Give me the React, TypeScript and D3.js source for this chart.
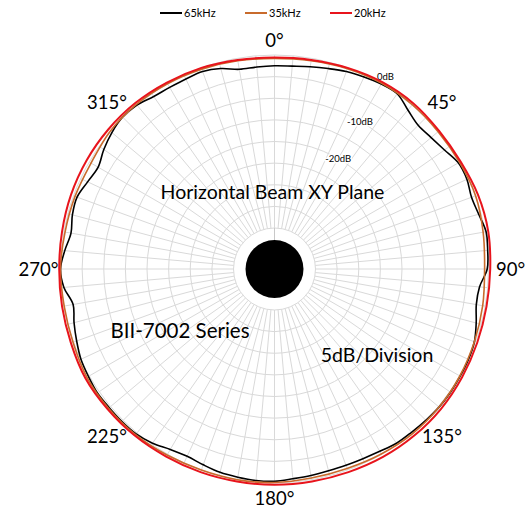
import * as d3 from "d3";
import { useEffect, useRef } from "react";

// series
const seriesNames = ["65kHz", "35kHz", "20kHz"];
const seriesColors = ["#000000", "#c86b2c", "#e8141c"];

// angles (degrees, clockwise from top)
const angles5 = d3.range(0, 360, 5);
const angles10 = d3.range(0, 360, 10);

// response in dB relative to on-axis
const values65 = [
    -2.5, -2.4, -2.0, -1.5, -0.9, -0.5, -0.1, 0.0, -1.5, -2.5, -2.2, -1.5,
    -0.4, -0.4, -1.0, -0.6, 0.2, 0.0, -0.3, -1.9, -2.1, -1.2, -0.3, 0.0,
    0.1, 0.2, 0.2, 0.0, -0.2, -0.3, -0.8, -1.1, -1.2, -1.2, -1.0, -0.8,
    -0.4, -0.4, -0.6, -0.8, -1.3, -1.7, -1.3, -0.3, 0.3, 0.4, 0.4, 0.5,
    0.2, -0.1, -0.8, -1.5, -2.2, -0.6, 0.0, -0.8, -1.7, -1.1, -0.9, -1.8,
    -2.4, -1.3, -0.4, 0.2, 0.0, -0.8, -1.0, -1.0, -0.9, -1.5, -2.6, -2.6,
];
const values35 = [
    -0.8, -0.6, -0.2, 0.1, 0.1, -0.1, -0.1, 0.0, -0.5, -0.9, -0.6, -0.3,
    0.0, 0.2, 0.2, -0.1, -0.4, -0.4, -0.1, 0.0, 0.0, 0.2, 0.5, 0.6,
    0.6, 0.1, -0.1, 0.0, -0.3, -0.4, -0.5, 0.1, 0.2, 0.0, -0.3, -0.6,
];
const values20 = [
    -0.6, -0.4, 0.0, 0.4, 0.5, 0.2, 0.2, 0.6, 0.7, 0.4, 0.3, 0.4,
    0.6, 0.8, 0.8, 0.7, 0.5, 0.4, 0.4, 0.4, 0.5, 0.6, 0.8, 0.9,
    1.0, 0.6, 0.4, 0.3, 0.4, 0.6, 0.7, 0.7, 0.6, 0.3, 0.0, -0.4,
];

// grid
const ringLevels = [-40, -35, -30, -25, -20, -15, -10, -5, 0];
const dbLabels = [0, -10, -20];
const degreeLabels = [0, 45, 90, 135, 180, 225, 270, 315];
const spokeAngles = d3.range(0, 360, 5);

function polarChart(svgEl: SVGSVGElement) {
    const cx = 274.5;
    const cy = 269;
    const font = "Lato, 'Open Sans', sans-serif";
    const svg = d3.select(svgEl);
    svg.selectAll("*").remove();

    const r = d3.scaleLinear().domain([-40, 0]).range([41, 214]);
    const rad = (a: number) => (a * Math.PI) / 180;

    const g = svg.append("g").attr("transform", `translate(${cx},${cy})`);

    // rings
    g.selectAll("circle.ring")
        .data(ringLevels)
        .enter()
        .append("circle")
        .attr("class", "ring")
        .attr("r", (d) => r(d))
        .attr("fill", "none")
        .attr("stroke", "#d9d9d9")
        .attr("stroke-width", 1);

    // spokes
    g.selectAll("line.spoke")
        .data(spokeAngles)
        .enter()
        .append("line")
        .attr("class", "spoke")
        .attr("x1", (a) => r(-40) * Math.sin(rad(a)))
        .attr("y1", (a) => -r(-40) * Math.cos(rad(a)))
        .attr("x2", (a) => r(0) * Math.sin(rad(a)))
        .attr("y2", (a) => -r(0) * Math.cos(rad(a)))
        .attr("stroke", "#d9d9d9")
        .attr("stroke-width", 1);

    // axis stub to the disc
    g.append("line")
        .attr("x1", 0).attr("y1", -r(-40))
        .attr("x2", 0).attr("y2", -29)
        .attr("stroke", "#c8c8c8");

    // centre disc
    g.append("circle").attr("r", 29).attr("fill", "#000");

    // dB labels
    g.selectAll("text.db")
        .data(dbLabels)
        .enter()
        .append("text")
        .attr("class", "db")
        .attr("x", (d) => (r(d) + (d === 0 ? 8 : 0)) * Math.sin(rad(30)))
        .attr("y", (d) => -(r(d) + (d === 0 ? 8 : 0)) * Math.cos(rad(30)))
        .attr("text-anchor", "middle")
        .attr("dominant-baseline", "central")
        .attr("font-family", font)
        .attr("font-size", 9.5)
        .attr("fill", "#000")
        .attr("stroke", "#fff")
        .attr("stroke-width", 3)
        .attr("paint-order", "stroke")
        .text((d) => `${d}dB`);

    // curves
    const line = d3.lineRadial<[number, number]>()
        .angle((d) => rad(d[0]))
        .radius((d) => r(d[1]))
        .curve(d3.curveCatmullRomClosed);

    const series: [number, number][][] = [
        angles5.map((a, i) => [a, values65[i]]),
        angles10.map((a, i) => [a, values35[i]]),
        angles10.map((a, i) => [a, values20[i]]),
    ];
    const widths = [1.6, 1.6, 2];
    series.forEach((pts, i) => {
        g.append("path")
            .attr("d", line(pts))
            .attr("fill", "none")
            .attr("stroke", seriesColors[i])
            .attr("stroke-width", widths[i]);
    });

    // degree labels
    const labelR = (a: number) =>
        222 + Math.abs(Math.sin(rad(a))) * 14 + Math.abs(Math.cos(rad(a))) * 7;
    g.selectAll("text.deg")
        .data(degreeLabels)
        .enter()
        .append("text")
        .attr("class", "deg")
        .attr("x", (a) => labelR(a) * Math.sin(rad(a)))
        .attr("y", (a) => -labelR(a) * Math.cos(rad(a)))
        .attr("text-anchor", "middle")
        .attr("dominant-baseline", "central")
        .attr("font-family", font)
        .attr("font-size", 18.5)
        .attr("fill", "#000")
        .text((a) => `${a}°`);

    // annotations
    const notes = [
        { text: "Horizontal Beam XY Plane", x: 272.5, y: 199, size: 19.5 },
        { text: "BII-7002 Series", x: 180, y: 338, size: 20.5 },
        { text: "5dB/Division", x: 377, y: 362, size: 19.5 },
    ];
    svg.selectAll("text.note")
        .data(notes)
        .enter()
        .append("text")
        .attr("class", "note")
        .attr("x", (d) => d.x)
        .attr("y", (d) => d.y)
        .attr("text-anchor", "middle")
        .attr("font-family", font)
        .attr("font-size", (d) => d.size)
        .attr("fill", "#000")
        .text((d) => d.text);

    // legend
    const legendX = [160, 245, 330];
    const leg = svg.selectAll("g.leg")
        .data(seriesNames)
        .enter()
        .append("g")
        .attr("class", "leg")
        .attr("transform", (_d, i) => `translate(${legendX[i]},13)`);
    leg.append("line")
        .attr("x1", 0).attr("x2", 22)
        .attr("stroke", (_d, i) => seriesColors[i])
        .attr("stroke-width", 2);
    leg.append("text")
        .attr("x", 24)
        .attr("y", 4)
        .attr("font-family", font)
        .attr("font-size", 11)
        .attr("fill", "#000")
        .text((d) => d);
}

export default function App() {
    const svgRef = useRef<SVGSVGElement>(null);
    useEffect(() => {
        if (svgRef.current) polarChart(svgRef.current);
    }, []);
    return (
        <svg
            ref={svgRef}
            width={528}
            height={516}
            style={{ position: "absolute", left: 0, top: 0, background: "#fff" }}
        />
    );
}
